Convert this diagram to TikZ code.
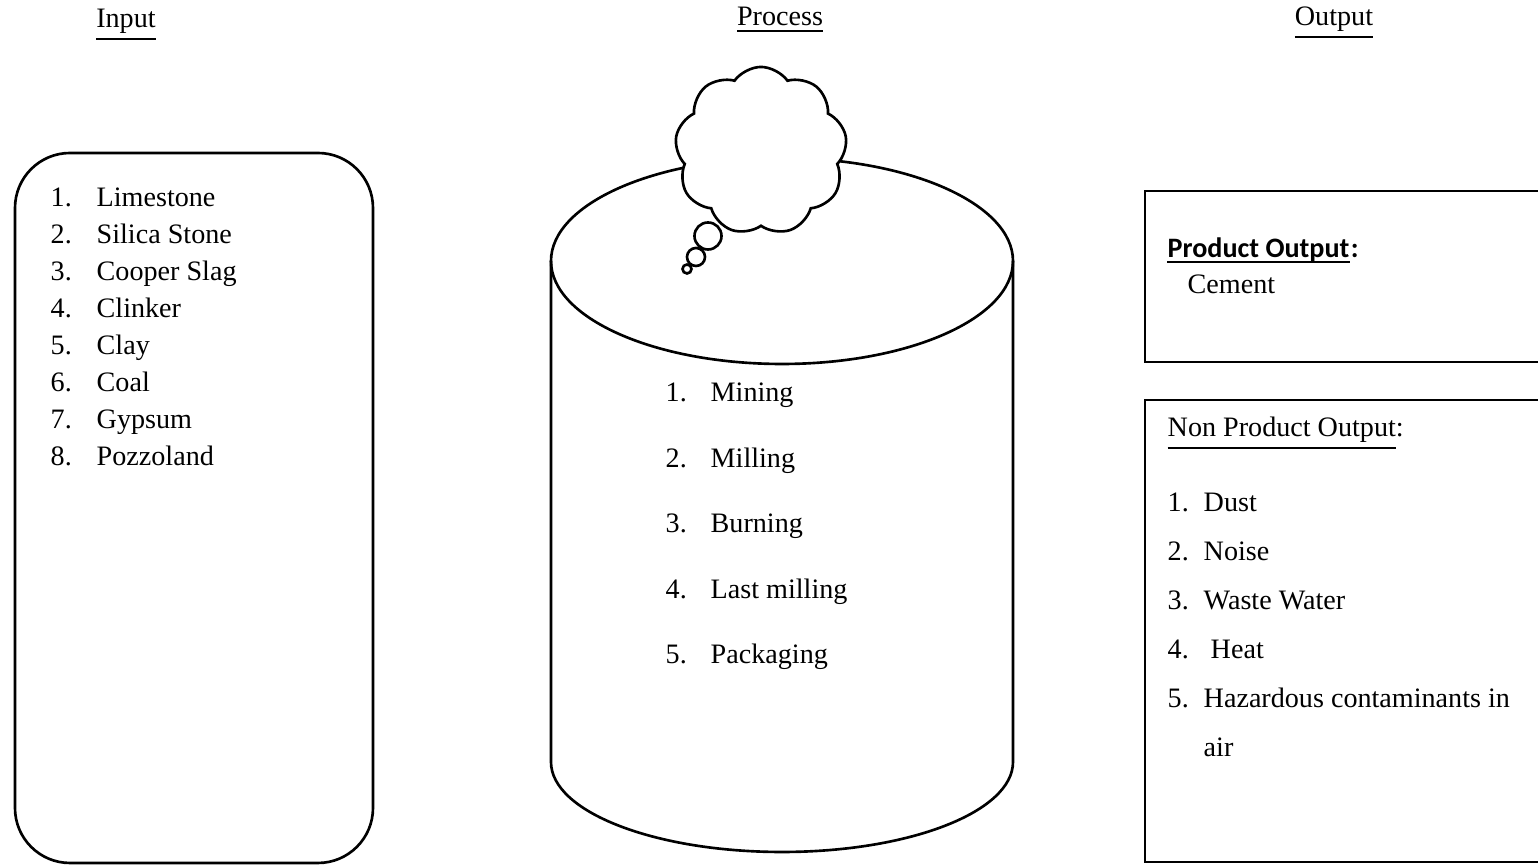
\documentclass[tikz,border=0pt]{standalone}
\usepackage{fontspec}
\setmainfont{Liberation Serif}
\newfontfamily\calfont{Carlito}
\usetikzlibrary{shapes.symbols}
\begin{document}
\begin{tikzpicture}[x=0.01cm,y=-0.01cm,
  txt/.style={anchor=base west,inner sep=0pt,font=\fontsize{8}{9.6}\selectfont},
  head/.style={anchor=base,inner sep=0pt,font=\fontsize{8}{9.6}\selectfont},
  shp/.style={draw=black,line width=0.75pt}]
\useasboundingbox (0,0) rectangle (1538,865);
% headings
\node[head] (hin) at (126,28) {\underline{Input}};
\node[head] (hpr) at (780,26) {\underline{Process}};
\node[head] (hout) at (1334,26) {\underline{Output}};
% input box
\draw[shp,rounded corners=0.55cm] (15,153) rectangle (373,863);
\foreach \n/\t [count=\i from 0] in {1/Limestone,2/Silica Stone,3/Cooper Slag,4/Clinker,5/Clay,6/Coal,7/Gypsum,8/Pozzoland}{
  \node[txt] (inn\n) at (50,207+36.9*\i) {\n.};
  \node[txt] (int\n) at (96,207+36.9*\i) {\t};
}
% cylinder
\coordinate (cylc) at (782,261);
\draw[shp] (782,261) ellipse [x radius=231,y radius=103];
\draw[shp] (551,261) -- (551,762) arc[start angle=180,end angle=0,x radius=231,y radius=90] -- (1013,261);
% cloud
\node[cloud,cloud puffs=9,cloud puff arc=110,aspect=1,draw=black,line width=0.75pt,fill=white,
  minimum width=1.72cm,minimum height=1.68cm,inner sep=0pt] (cloud) at (761,151) {};
\node[circle,draw=black,line width=0.75pt,fill=white,minimum size=0.27cm,inner sep=0pt] (b1) at (708,236) {};
\node[circle,draw=black,line width=0.75pt,fill=white,minimum size=0.18cm,inner sep=0pt] (b2) at (696,257) {};
\node[circle,draw=black,line width=0.75pt,fill=white,minimum size=0.09cm,inner sep=0pt] (b3) at (687,269) {};
% process list
\foreach \n/\t [count=\i from 0] in {1/Mining,2/Milling,3/Burning,4/Last milling,5/Packaging}{
  \node[txt] (prn\n) at (665,402+65.5*\i) {\n.};
  \node[txt] (prt\n) at (710,402+65.5*\i) {\t};
}
% output boxes
\draw[shp] (1545,191) -- (1145,191) -- (1145,362) -- (1545,362);
\draw[shp] (1545,400) -- (1145,400) -- (1145,862) -- (1545,862);
\node[txt,font=\calfont\bfseries\fontsize{8}{9.6}\selectfont] (po) at (1167,258) {Product Output};
\node[txt,font=\calfont\bfseries\fontsize{8}{9.6}\selectfont,anchor=base west] (poc) at (po.base east) {:};
\draw[line width=0.5pt] ([yshift=-0.04cm]po.base west) -- ([yshift=-0.04cm]po.base east);
\node[txt] (cem) at (1187,294) {Cement};
\node[txt] (npo) at (1167,437) {\underline{Non Product Output}:};
\foreach \n/\t/\xx [count=\i from 0] in {1/Dust/1203,2/Noise/1203,3/Waste Water/1203,4/Heat/1210,5/Hazardous contaminants in/1203}{
  \node[txt] (onn\n) at (1167,512+49*\i) {\n.};
  \node[txt] (ont\n) at (\xx,512+49*\i) {\t};
}
\node[txt] (air) at (1203,757) {air};
\end{tikzpicture}
\end{document}
